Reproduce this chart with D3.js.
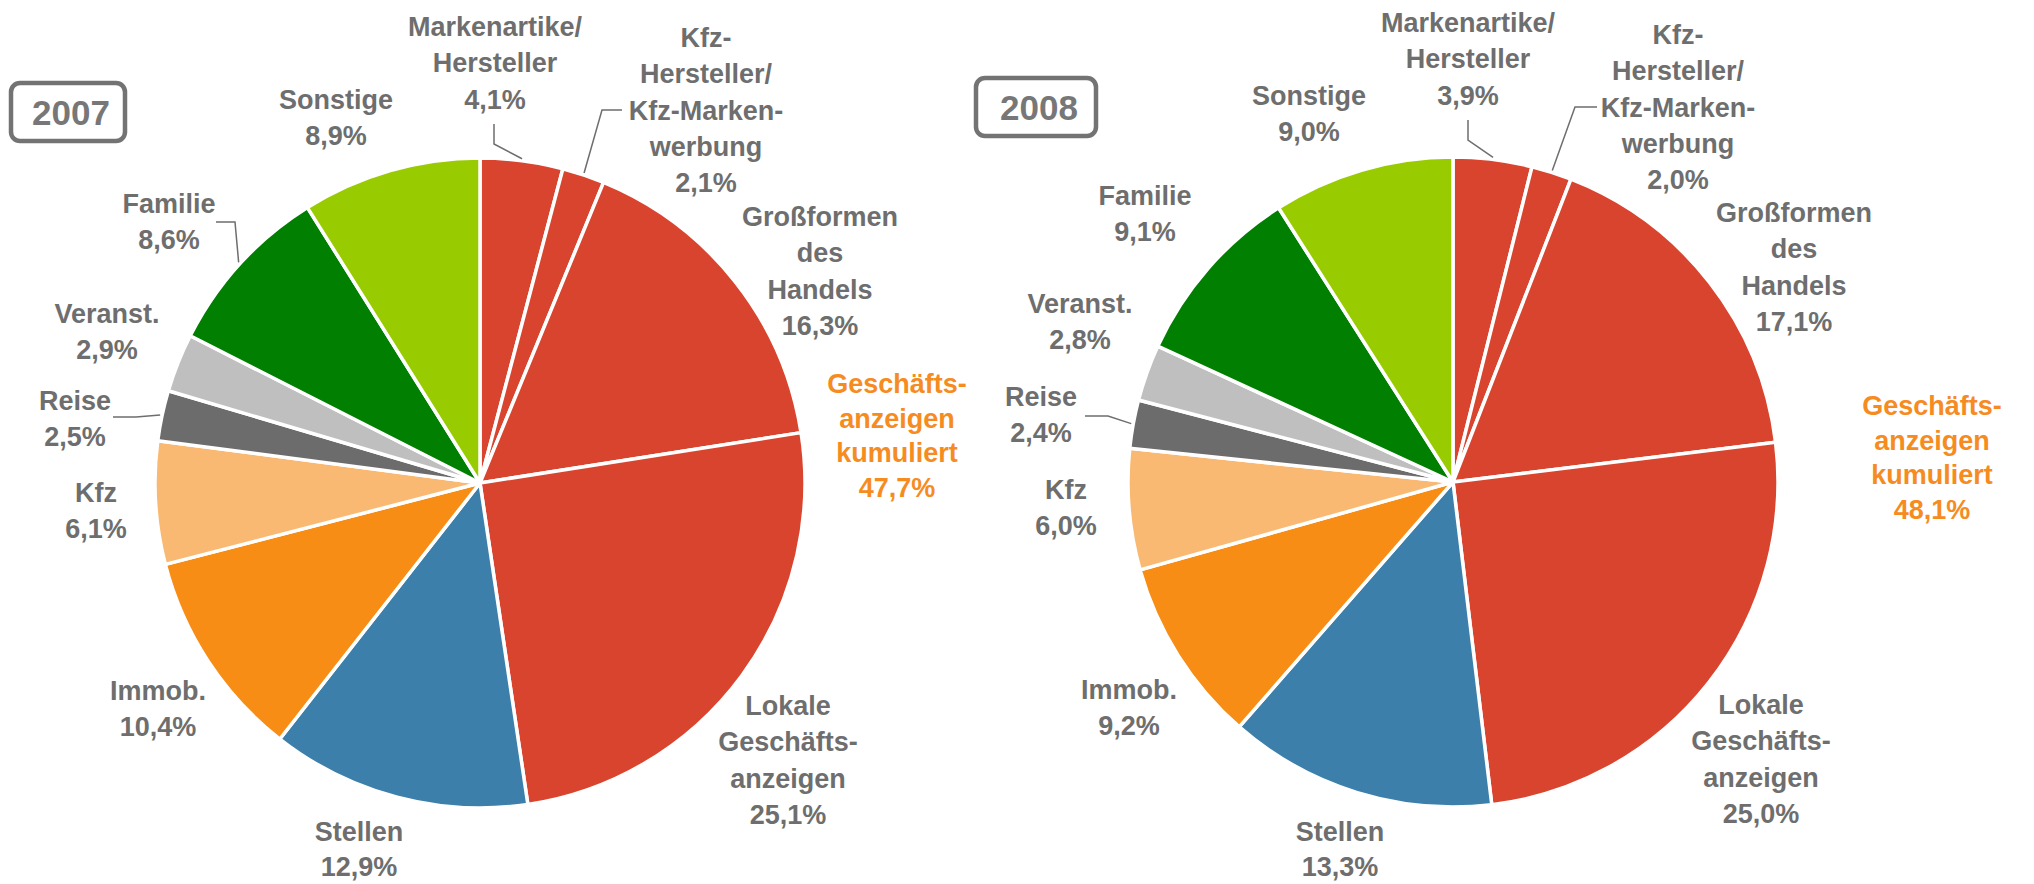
<!DOCTYPE html>
<html>
<head>
<meta charset="utf-8">
<script src="https://cdn.jsdelivr.net/npm/d3@7/dist/d3.min.js"></script>
<style>
  body { margin: 0; padding: 0; background: #fff; }
  svg text { font-family: "Liberation Sans", Arial, sans-serif; font-weight: bold; }
</style>
</head>
<body>
<svg id="chart" width="2034" height="884"></svg>
<script>
// categories, clockwise from 12 o'clock
const categories = [
  ["Markenartike/", "Hersteller"],
  ["Kfz-", "Hersteller/", "Kfz-Marken-", "werbung"],
  ["Großformen", "des", "Handels"],
  ["Lokale", "Geschäfts-", "anzeigen"],
  ["Stellen"],
  ["Immob."],
  ["Kfz"],
  ["Reise"],
  ["Veranst."],
  ["Familie"],
  ["Sonstige"]
];
const values2007 = [4.1, 2.1, 16.3, 25.1, 12.9, 10.4, 6.1, 2.5, 2.9, 8.6, 8.9];
const values2008 = [3.9, 2.0, 17.1, 25.0, 13.3, 9.2, 6.0, 2.4, 2.8, 9.1, 9.0];
const years = ["2007", "2008"];
const cumulated = [47.7, 48.1];
const cumulatedLabel = ["Geschäfts-", "anzeigen", "kumuliert"];

const colors = ["#D9442F", "#D9442F", "#D9442F", "#D9442F", "#3C7FAB", "#F78D14",
                "#F9B972", "#6C6C6C", "#BFBFBF", "#007F00", "#99CC00"];

// layout: label positions relative to pie centre (x centre, first baseline, line height)
const layout = [
  {
    cx: 480, cy: 483, box: [9, 81, 118, 62],
    labels: [[15,-447],[226,-436],[340,-257],[308,232],[-121,358,34.5],[-322,217],
             [-384,19],[-405,-73],[-373,-160],[-311,-270],[-144,-374]],
    cum: [417, -90],
    leaders: [{i:0, pts:[[14,-339],[14,-359]]}, {i:1, pts:[[122,-373],[142,-373]]},
              {i:9, pts:[[-245,-261],[-264,-261]]}, {i:7, pts:[[-344,-66],[-367,-66]]}]
  },
  {
    cx: 1453, cy: 482, box: [974, 76, 124, 62],
    labels: [[15,-450],[225,-438],[341,-260],[308,232],[-113,359,34.5],[-324,217],
             [-387,17],[-412,-76],[-373,-169],[-308,-277],[-144,-377]],
    cum: [479, -67],
    leaders: [{i:0, pts:[[15,-342],[15,-362]]}, {i:1, pts:[[122,-375],[144,-375]]},
              {i:7, pts:[[-345,-66],[-368,-66]]}]
  }
];

const R = 325;
const lineH = 36.3;
const textGray = "#6E6E6E";
const fmt = v => d3.format(".1f")(v).replace(".", ",") + "%";

const svg = d3.select("#chart");
const pie = d3.pie().sort(null).value(d => d);
const arc = d3.arc().innerRadius(0).outerRadius(R);

[values2007, values2008].forEach((vals, k) => {
  const L = layout[k];
  const g = svg.append("g").attr("transform", `translate(${L.cx},${L.cy})`);
  const arcs = pie(vals);

  g.selectAll("path.slice").data(arcs).enter().append("path")
    .attr("class", "slice")
    .attr("d", arc)
    .attr("fill", (d, i) => colors[i])
    .attr("stroke", "#fff")
    .attr("stroke-width", 3.5)
    .attr("stroke-linejoin", "round");

  // leader lines
  L.leaders.forEach(ld => {
    const a = arcs[ld.i];
    const mid = (a.startAngle + a.endAngle) / 2;
    const p0 = [Math.sin(mid) * (R + 2), -Math.cos(mid) * (R + 2)];
    g.append("path")
      .attr("d", d3.line()([p0].concat(ld.pts)))
      .attr("fill", "none")
      .attr("stroke", textGray)
      .attr("stroke-width", 1.5);
  });

  // labels
  arcs.forEach((a, i) => {
    const pos = L.labels[i];
    const lh = pos[2] || lineH;
    const lines = categories[i].concat([fmt(vals[i])]);
    const t = g.append("text")
      .attr("text-anchor", "middle")
      .attr("fill", textGray)
      .attr("font-size", 27);
    lines.forEach((s, j) => {
      t.append("tspan").attr("x", pos[0]).attr("y", pos[1] + j * lh).text(s);
    });
  });

  // cumulated label
  const cl = cumulatedLabel.concat([fmt(cumulated[k])]);
  const ct = g.append("text")
    .attr("text-anchor", "middle")
    .attr("fill", "#F68B1F")
    .attr("font-size", 27);
  cl.forEach((s, j) => {
    ct.append("tspan").attr("x", L.cum[0]).attr("y", L.cum[1] + j * 34.7).text(s);
  });

  // year box
  const b = L.box;
  svg.append("rect")
    .attr("x", b[0] + 2).attr("y", b[1] + 2)
    .attr("width", b[2] - 4).attr("height", b[3] - 4)
    .attr("rx", 9).attr("ry", 9)
    .attr("fill", "#fff")
    .attr("stroke", "#737373")
    .attr("stroke-width", 4.5);
  svg.append("text")
    .attr("x", b[0] + b[2] / 2 + 3)
    .attr("y", b[1] + b[3] / 2 + 12.5)
    .attr("text-anchor", "middle")
    .attr("fill", "#777")
    .attr("font-size", 35)
    .text(years[k]);
});
</script>
</body>
</html>
